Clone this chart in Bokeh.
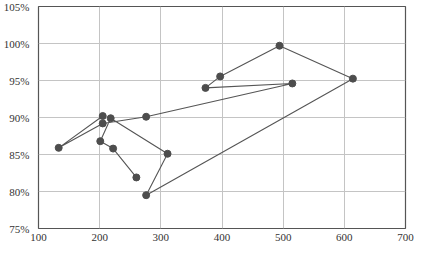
from bokeh.plotting import figure
from bokeh.embed import file_html
from bokeh.resources import INLINE
from bokeh.models import FixedTicker, PrintfTickFormatter, Range1d

# path of points in drawing order
x_vals = [260, 222, 201, 218, 311, 276, 614, 494, 397, 373, 515, 276, 205, 133, 205]
y_vals = [81.9, 85.8, 86.8, 89.9, 85.1, 79.5, 95.25, 99.7, 95.55, 94.0, 94.6, 90.1, 89.2, 85.9, 90.2]

x_ticks = [100, 200, 300, 400, 500, 600, 700]
y_ticks = [75, 80, 85, 90, 95, 100, 105]

p = figure(width=418, height=245, output_backend="svg", toolbar_location=None,
           x_range=Range1d(100, 700), y_range=Range1d(75, 105),
           min_border_left=36, min_border_right=13, min_border_top=6, min_border_bottom=17)

p.line(x_vals, y_vals, line_color="#555555", line_width=1.1)
p.scatter(x_vals, y_vals, size=7, fill_color="#4d4d4d", line_color="#4d4d4d")

p.xaxis.ticker = FixedTicker(ticks=x_ticks)
p.yaxis.ticker = FixedTicker(ticks=y_ticks)
p.yaxis.formatter = PrintfTickFormatter(format="%d%%")

for ax in (p.xaxis[0], p.yaxis[0]):
    ax.axis_line_color = None
    ax.major_tick_line_color = None
    ax.minor_tick_line_color = None
    ax.major_tick_out = 0
    ax.major_tick_in = 0
    ax.minor_tick_out = 0
    ax.major_label_text_font = "serif"
    ax.major_label_text_font_size = "11px"
    ax.major_label_text_color = "#333333"
p.yaxis.major_label_standoff = 9
p.xaxis.major_label_standoff = 5

p.xgrid.grid_line_color = "#c4c4c4"
p.ygrid.grid_line_color = "#c4c4c4"
p.outline_line_color = "#555555"
p.outline_line_width = 1.2
p.background_fill_color = "white"
p.border_fill_color = "white"

open("out.html", "w").write(file_html(p, INLINE))
